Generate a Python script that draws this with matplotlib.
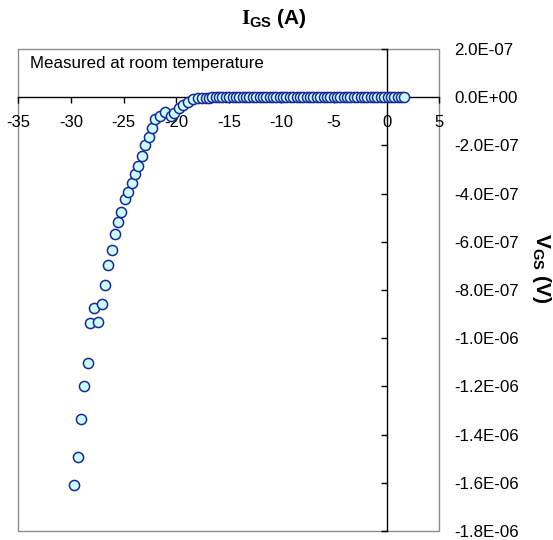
import matplotlib
matplotlib.use("Agg")
import matplotlib.pyplot as plt
from matplotlib.patches import Rectangle

plt.rcParams['font.family'] = ['Liberation Sans', 'DejaVu Sans']
plt.rcParams['axes.unicode_minus'] = False
plt.rcParams['mathtext.fontset'] = 'custom'
plt.rcParams['mathtext.rm'] = 'Liberation Sans'
plt.rcParams['mathtext.bf'] = 'Liberation Serif:bold'
plt.rcParams['mathtext.sf'] = 'Liberation Sans:bold'

# ---- data (V_GS in volts, I_GS in amps) ----
vgs = [-29.72, -29.37, -29.09, -28.77, -28.42, -28.20, -27.82, -27.41, -27.09, -26.78,
       -26.45, -26.14, -25.83, -25.54, -25.22, -24.90, -24.57, -24.24, -23.95, -23.64,
       -23.22, -22.94, -22.56, -22.27, -22.03, -21.55, -21.06, -20.53, -20.22, -19.74,
       -19.33, -18.85, -18.37, -17.94, -17.52, -17.20, -16.88, -16.56, -16.24, -15.92,
       -15.60, -15.28, -14.96, -14.64, -14.32, -14.00, -13.68, -13.36, -13.04, -12.72,
       -12.40, -12.08, -11.76, -11.44, -11.12, -10.80, -10.48, -10.16, -9.84, -9.52,
       -9.20, -8.88, -8.56, -8.24, -7.92, -7.60, -7.28, -6.96, -6.64, -6.32,
       -6.00, -5.68, -5.36, -5.04, -4.72, -4.40, -4.08, -3.76, -3.44, -3.12,
       -2.80, -2.48, -2.16, -1.84, -1.52, -1.20, -0.88, -0.56, -0.24, 0.08,
       0.40, 0.72, 1.04, 1.36, 1.60]
igs = [-1.610e-6, -1.493e-6, -1.334e-6, -1.197e-6, -1.101e-6, -0.935e-6, -0.873e-6, -0.932e-6, -0.859e-6, -0.778e-6,
       -0.697e-6, -0.634e-6, -0.568e-6, -0.516e-6, -0.475e-6, -0.422e-6, -0.392e-6, -0.357e-6, -0.320e-6, -0.285e-6,
       -0.244e-6, -0.198e-6, -0.166e-6, -0.129e-6, -0.091e-6, -0.078e-6, -0.061e-6, -0.080e-6, -0.064e-6, -0.046e-6,
       -0.032e-6, -0.018e-6, -0.008e-6, -0.004e-6, -0.002e-6, -0.002e-6, -0.0015e-6, -0.001e-6, -0.001e-6, -0.001e-6,
       -0.0008e-6, -0.0006e-6, -0.0005e-6, -0.0004e-6, -0.0003e-6, -0.0003e-6, -0.0002e-6, -0.0002e-6, -0.0002e-6, -0.0001e-6,
       -0.0001e-6, -0.0001e-6, -0.0001e-6, 0.0, 0.0, 0.0, 0.0, 0.0, 0.0, 0.0,
       0.0, 0.0, 0.0, 0.0, 0.0, 0.0, 0.0, 0.0, 0.0, 0.0,
       0.0, 0.0, 0.0, 0.0, 0.0, 0.0, 0.0, 0.0, 0.0, 0.0,
       0.0, 0.0, 0.0, 0.0, 0.0, 0.0, 0.0, 0.0, 0.0, 0.0,
       0.0, 0.0, 0.0, 0.0, 0.0]

x_ticks = [-35, -30, -25, -20, -15, -10, -5, 0, 5]
y_ticks = [2e-7, 0.0, -2e-7, -4e-7, -6e-7, -8e-7, -1.0e-6, -1.2e-6, -1.4e-6, -1.6e-6, -1.8e-6]
y_ticklabels = ['2.0E-07', '0.0E+00', '-2.0E-07', '-4.0E-07', '-6.0E-07', '-8.0E-07',
                '-1.0E-06', '-1.2E-06', '-1.4E-06', '-1.6E-06', '-1.8E-06']

title_text = r'$\mathbf{I}_{\mathsf{GS}}$ (A)'
side_text = r'$\mathsf{V}_{\mathsf{GS}}$ (V)'
note_text = 'Measured at room temperature'

W, H = 553, 540
fig = plt.figure(figsize=(W / 100, H / 100), dpi=100)
ax = fig.add_axes([18.3 / W, 9 / H, 421 / W, 482 / H])
ax.set_xlim(-35, 5)
ax.set_ylim(-1.8e-6, 2e-7)

for s in ('top', 'right'):
    ax.spines[s].set_visible(False)
ax.spines['left'].set_position(('data', 0))
ax.spines['bottom'].set_position(('data', 0))
for s in ('left', 'bottom'):
    ax.spines[s].set_color('black')
    ax.spines[s].set_linewidth(1.0)
    ax.spines[s].set_zorder(1)
ax.add_patch(Rectangle((0, 0), 1, 1, transform=ax.transAxes, fill=False,
                       edgecolor='#8c8c8c', linewidth=1.0, zorder=0, clip_on=False))

ax.set_xticks(x_ticks)
ax.set_xticklabels([str(v) for v in x_ticks])
ax.tick_params(axis='x', direction='out', length=4, width=1, pad=8.5, labelsize=12, colors='black')
ax.set_yticks(y_ticks)
ax.set_yticklabels([])
ax.tick_params(axis='y', direction='out', length=4, width=1)

ax2 = ax.twinx()
ax2.set_ylim(-1.8e-6, 2e-7)
for s in ax2.spines.values():
    s.set_visible(False)
ax2.set_yticks(y_ticks)
ax2.set_yticklabels(y_ticklabels)
ax2.tick_params(axis='y', length=0, pad=10.5, labelsize=12.2)

ax.plot(vgs, igs, linestyle='none', marker='o', markersize=7.3,
        markerfacecolor='#ccffff', markeredgecolor='#1a2896', markeredgewidth=1.1,
        clip_on=False, zorder=3)

ax.text(0.028, 0.969, note_text, transform=ax.transAxes, ha='left', va='center',
        fontsize=12.2)

fig.text(274 / W, 1 - 18 / H, title_text, ha='center', va='center',
         fontsize=15, fontweight='bold')
fig.text(541 / W, 1 - 268 / H, side_text, ha='center', va='center',
         fontsize=15, fontweight='bold', rotation=-90)

fig.savefig('out.png', dpi=100)
